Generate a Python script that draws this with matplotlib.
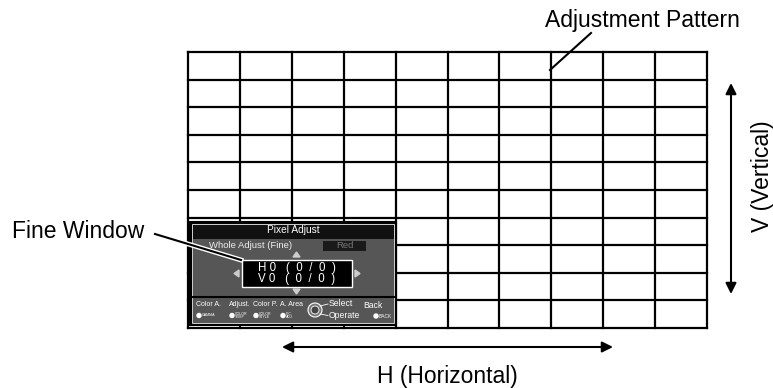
import matplotlib
matplotlib.use("Agg")
import matplotlib.pyplot as plt
from matplotlib.patches import Rectangle, Circle, Polygon

plt.rcParams["font.family"] = ["Liberation Sans", "DejaVu Sans"]

# pattern grid
N_COLS = 10
N_ROWS = 10
GRID_X = (188, 707)
GRID_Y = (52, 328)

# labels
LABEL_PATTERN = "Adjustment Pattern"
LABEL_WINDOW = "Fine Window"
LABEL_V = "V (Vertical)"
LABEL_H = "H (Horizontal)"

# fine window texts
WIN_TITLE = "Pixel Adjust"
WIN_MODE = "Whole Adjust (Fine)"
WIN_COLOR = "Red"
WIN_VALUES = ["H 0   (  0  /  0  )", "V 0   (  0  /  0  )"]
KEY_NAMES = ["Color A.", "Adjust.", "Color P.", "A. Area"]
KEY_BUTTONS = ["GAMMA", "COLOR\nTEMP", "COLOR\nSTYLE", "PIC.\nADJ."]
KEY_X = [196, 229, 253, 280]

W, H = 773, 388
fig = plt.figure(figsize=(W / 100, H / 100), dpi=100)
ax = fig.add_axes([0, 0, 1, 1])
ax.set_xlim(0, W)
ax.set_ylim(H, 0)
ax.axis("off")

# grid
x0, x1 = GRID_X
y0, y1 = GRID_Y
for i in range(N_COLS + 1):
    x = x0 + (x1 - x0) * i / N_COLS
    ax.plot([x, x], [y0, y1], color="black", lw=1.6, solid_capstyle="projecting", zorder=1)
for j in range(N_ROWS + 1):
    y = y0 + (y1 - y0) * j / N_ROWS
    ax.plot([x0, x1], [y, y], color="black", lw=1.6, solid_capstyle="projecting", zorder=1)

# fine window
wx0, wx1, wy0, wy1 = 190, 396, 222, 325
gray = "#565656"
ax.add_patch(Rectangle((wx0, wy0), wx1 - wx0, wy1 - wy0, facecolor="black", edgecolor="black", lw=1.5, zorder=3))
ax.add_patch(Rectangle((wx0 + 2, wy0 + 2), wx1 - wx0 - 4, wy1 - wy0 - 4, facecolor=gray, edgecolor="#e8e8e8", lw=0.6, zorder=3))
ax.add_patch(Rectangle((wx0 + 2.5, wy0 + 2.5), wx1 - wx0 - 5, 14, facecolor="#111111", edgecolor="none", zorder=4))
ax.plot([wx0 + 2, wx1 - 2], [297, 297], color="black", lw=1.5, zorder=4)
ax.text((wx0 + wx1) / 2, 230, WIN_TITLE, color="white", fontsize=7.3, ha="center", va="center", zorder=5)
ax.text(209, 246, WIN_MODE, color="#eeeeee", fontsize=6.8, ha="left", va="center", zorder=5)
ax.add_patch(Rectangle((323, 241), 43, 10, facecolor="#1a1a1a", edgecolor="none", zorder=4))
ax.text(344.5, 246, WIN_COLOR, color="#777777", fontsize=6.8, ha="center", va="center", zorder=5)

# value box
ax.add_patch(Rectangle((242, 260), 110, 27, facecolor="black", edgecolor="white", lw=1.0, zorder=4))
for k, s in enumerate(WIN_VALUES):
    ax.text(297, 268.5 + k * 10.5, s, color="white", fontsize=8.3, ha="center", va="center", zorder=5)
tri = "#cccccc"
ax.add_patch(Polygon([(293, 257), (300, 257), (296.5, 252)], color=tri, zorder=5))
ax.add_patch(Polygon([(293, 289), (300, 289), (296.5, 294)], color=tri, zorder=5))
ax.add_patch(Polygon([(239, 270), (239, 277), (234, 273.5)], color=tri, zorder=5))
ax.add_patch(Polygon([(355, 270), (355, 277), (360, 273.5)], color=tri, zorder=5))

# key bar
for name, btn, kx in zip(KEY_NAMES, KEY_BUTTONS, KEY_X):
    ax.text(kx, 305, name, color="white", fontsize=5, ha="left", va="center", zorder=5)
    ax.add_patch(Circle((kx + 3, 315.5), 2, color="white", zorder=5))
    ax.text(kx + 6, 315.5, btn, color="white", fontsize=2.6, ha="left", va="center", linespacing=0.9, zorder=5)
ax.add_patch(Circle((315, 310), 7, facecolor="#777777", edgecolor="white", lw=0.8, zorder=5))
ax.add_patch(Circle((315, 310), 4, facecolor="#444444", edgecolor="white", lw=0.6, zorder=5))
ax.plot([320, 328], [306, 304], color="white", lw=0.6, zorder=5)
ax.plot([320, 328], [314, 315.5], color="white", lw=0.6, zorder=5)
ax.text(329, 304, "Select", color="white", fontsize=6.2, ha="left", va="center", zorder=5)
ax.text(329, 315.5, "Operate", color="white", fontsize=6.2, ha="left", va="center", zorder=5)
ax.text(363, 305, "Back", color="white", fontsize=6.2, ha="left", va="center", zorder=5)
ax.add_patch(Circle((376, 316), 2, color="white", zorder=5))
ax.text(379, 316, "BACK", color="white", fontsize=3.5, ha="left", va="center", zorder=5)

# callouts
ax.text(545, 20, LABEL_PATTERN, fontsize=16.5, ha="left", va="center")
ax.plot([591, 550], [33, 70], color="black", lw=1.5, zorder=6)
ax.text(12, 232, LABEL_WINDOW, fontsize=16.5, ha="left", va="center")
ax.plot([155, 241], [234, 260], color="white", lw=3.5, zorder=6)
ax.plot([155, 241], [234, 260], color="black", lw=1.5, zorder=7)

# direction arrows
arrow = dict(arrowstyle="<|-|>", color="black", lw=1.5, mutation_scale=16, shrinkA=0, shrinkB=0)
ax.annotate("", xy=(731, 83), xytext=(731, 294), arrowprops=arrow)
ax.text(762, 176, LABEL_V, fontsize=16.5, rotation=90, ha="center", va="center")
ax.annotate("", xy=(282, 347), xytext=(613, 347), arrowprops=arrow)
ax.text(447, 377, LABEL_H, fontsize=16.5, ha="center", va="center")

fig.savefig("out.png", dpi=100)
